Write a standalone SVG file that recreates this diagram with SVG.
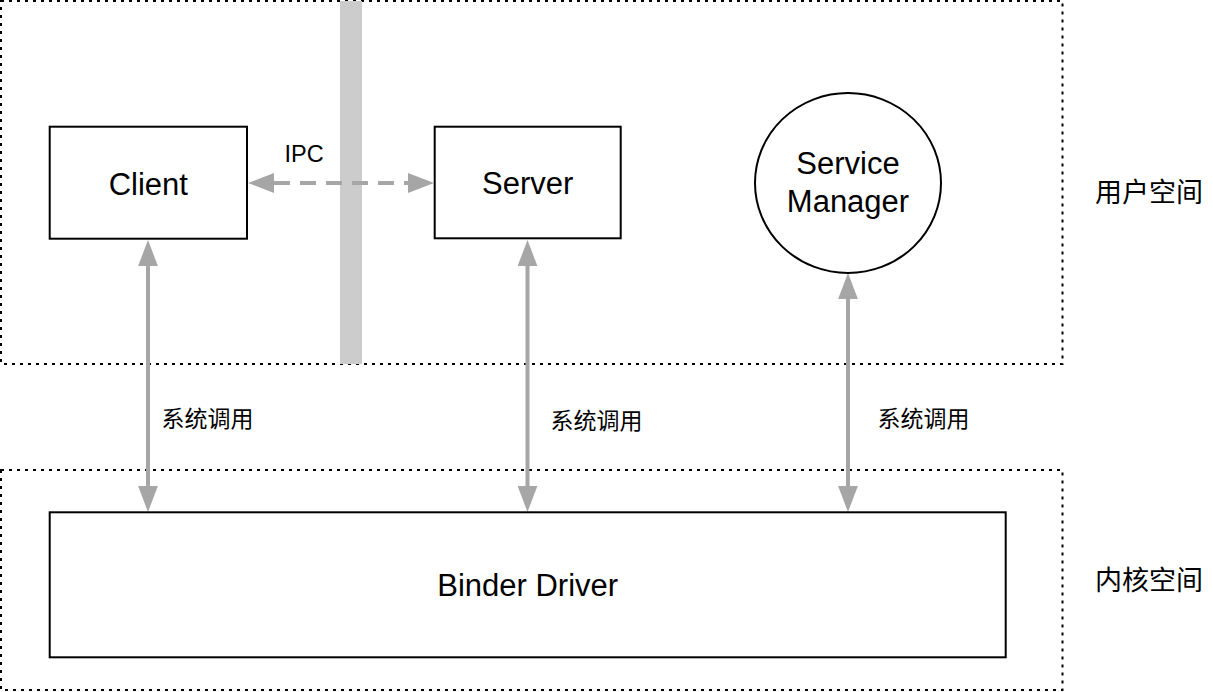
<svg xmlns="http://www.w3.org/2000/svg" width="1213" height="692" viewBox="0 0 1213 692">
<style>
.zone{fill:none;stroke:#000;stroke-width:2;stroke-dasharray:3 5}
.node{fill:#fff;stroke:#000;stroke-width:2}
.lbl{font-family:"Liberation Sans",Helvetica,Arial,sans-serif;font-size:31px;fill:#000;text-anchor:middle}
.cjk{font-family:"Noto Sans CJK SC","Noto Sans",sans-serif;fill:#000}
.conn{stroke:#A6A6A6;stroke-width:4;fill:none}
</style>
<defs>
<marker id="ah" markerUnits="userSpaceOnUse" markerWidth="26" markerHeight="20" viewBox="0 0 25 19" refX="0" refY="9.5" orient="auto-start-reverse">
<path d="M0,0 L25,9.5 L0,19 z" fill="#A6A6A6"/>
</marker>
</defs>
<g id="zones">
<rect id="user-space" class="zone" x="1" y="1" width="1061.5" height="363"/>
<rect id="kernel-space" class="zone" x="1" y="470" width="1061.5" height="220"/>
<rect id="boundary-bar" x="340" y="1" width="22" height="363" fill="#CCCCCC"/>
</g>
<g id="connectors">
<line class="conn" x1="274" y1="183" x2="408" y2="183" stroke-dasharray="16 10" marker-start="url(#ah)" marker-end="url(#ah)"/>
<line class="conn" x1="148" y1="266" x2="148" y2="486" marker-start="url(#ah)" marker-end="url(#ah)"/>
<line class="conn" x1="527.5" y1="266" x2="527.5" y2="486" marker-start="url(#ah)" marker-end="url(#ah)"/>
<line class="conn" x1="848" y1="299" x2="848" y2="486" marker-start="url(#ah)" marker-end="url(#ah)"/>
<text x="284.5" y="161.5" font-family="Liberation Sans,Helvetica,Arial,sans-serif" font-size="23.5" fill="#000">IPC</text>
<text class="cjk" x="161.5" y="426.5" font-size="23">系统调用</text>
<text class="cjk" x="550.5" y="428.5" font-size="23">系统调用</text>
<text class="cjk" x="877.5" y="426.5" font-size="23">系统调用</text>
</g>
<g id="client">
<rect class="node" x="49.7" y="126.7" width="197.3" height="112"/>
<text class="lbl" x="148.3" y="195">Client</text>
</g>
<g id="server">
<rect class="node" x="434.7" y="126.7" width="186" height="111.6"/>
<text class="lbl" x="527.7" y="194.3">Server</text>
</g>
<g id="service-manager">
<ellipse class="node" cx="848" cy="183" rx="93" ry="90"/>
<text class="lbl" x="848" y="174.3">Service</text>
<text class="lbl" x="848" y="211.5">Manager</text>
</g>
<g id="binder-driver">
<rect class="node" x="49.7" y="512.3" width="956" height="145"/>
<text class="lbl" x="527.7" y="596">Binder Driver</text>
</g>
<g id="labels">
<text class="cjk" x="1095" y="202" font-size="27">用户空间</text>
<text class="cjk" x="1095" y="590" font-size="27">内核空间</text>
</g>
</svg>
